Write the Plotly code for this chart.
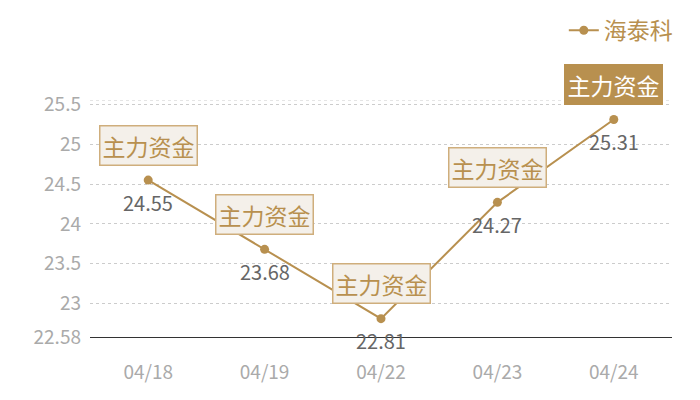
import plotly.graph_objects as go

dates = ["04/18", "04/19", "04/22", "04/23", "04/24"]
values = [24.55, 23.68, 22.81, 24.27, 25.31]
box_label = "主力资金"
highlight_index = 4
series_name = "海泰科"
y_tickvals = [22.58, 23, 23.5, 24, 24.5, 25, 25.5]
y_ticktext = ["22.58", "23", "23.5", "24", "24.5", "25", "25.5"]
y_min, y_max = 22.58, 25.555

BROWN = "#b8904f"
FONT = "Noto Sans CJK SC"

fig = go.Figure()
fig.add_trace(go.Scatter(
    x=dates, y=values, mode="lines+markers", name=series_name,
    line=dict(color=BROWN, width=2),
    marker=dict(color=BROWN, size=9),
))

annotations = []
for i, (d, v) in enumerate(zip(dates, values)):
    annotations.append(dict(
        x=d, y=v, xref="x", yref="y", text=f"{v:.2f}", showarrow=False,
        yshift=-22, font=dict(family=FONT, size=20, color="#666666"),
    ))
    hl = i == highlight_index
    annotations.append(dict(
        x=d, y=v, xref="x", yref="y", text=box_label, showarrow=False,
        yshift=35,
        font=dict(family=FONT, size=23, color="#ffffff" if hl else BROWN),
        bgcolor=BROWN if hl else "#f4f0ea",
        bordercolor=BROWN if hl else "#cfae7c",
        borderwidth=1.5, borderpad=2,
    ))

fig.update_layout(
    width=692, height=392,
    margin=dict(l=82, r=28, t=92, b=63, autoexpand=False),
    paper_bgcolor="white", plot_bgcolor="white",
    font=dict(family=FONT),
    showlegend=True,
    legend=dict(x=1.01, y=1.385, xanchor="right", yanchor="top",
                font=dict(family=FONT, size=23, color=BROWN),
                bgcolor="rgba(0,0,0,0)", borderwidth=0),
    annotations=annotations,
    xaxis=dict(
        type="category", range=[-0.5, 4.5], showgrid=False,
        showline=True, linecolor="#333333", linewidth=1.2,
        ticks="", tickfont=dict(family=FONT, size=19, color="#aaaaaa"),
        ticklabelstandoff=18,
        zeroline=False, fixedrange=True,
    ),
    yaxis=dict(
        range=[y_min, y_max], tickvals=y_tickvals, ticktext=y_ticktext,
        showgrid=True, gridcolor="#cccccc", griddash="dot", gridwidth=1,
        showline=False, zeroline=False, ticks="",
        tickfont=dict(family=FONT, size=19, color="#aaaaaa"),
        ticklabelstandoff=8,
    ),
)
# top boundary dashed line
fig.add_shape(type="line", xref="paper", yref="y", x0=0, x1=1, y0=y_max, y1=y_max,
              line=dict(color="#cccccc", width=1, dash="dot"), layer="below")

fig.write_html("out.html")
